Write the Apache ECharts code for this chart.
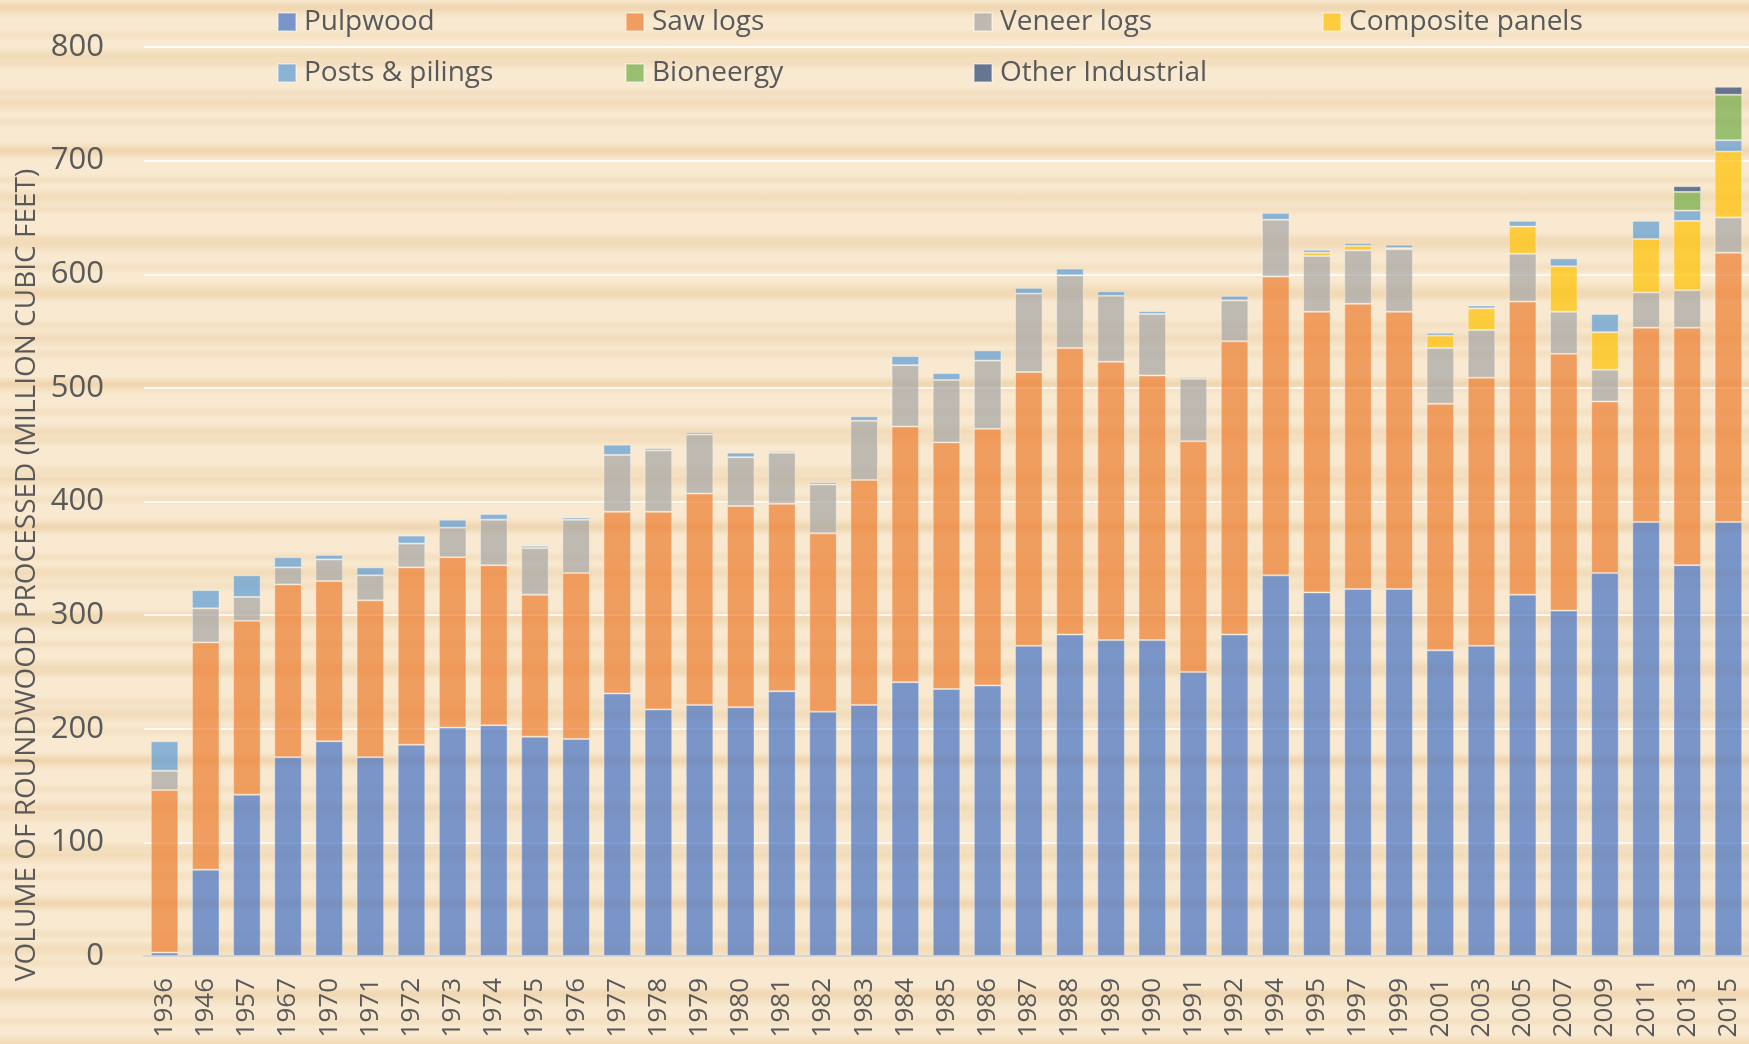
<!DOCTYPE html>
<html>
<head>
<meta charset="utf-8">
<script src="https://cdn.jsdelivr.net/npm/echarts@6/dist/echarts.min.js"></script>
<style>
  html, body { margin: 0; padding: 0; }
  body {
    width: 1749px; height: 1044px; overflow: hidden;
    background:
      repeating-linear-gradient(180deg, rgba(232,194,142,0) 0px, rgba(232,194,142,0.38) 9px, rgba(232,194,142,0) 19px, rgba(232,194,142,0) 47px),
      repeating-linear-gradient(180deg, rgba(228,188,138,0) 0px, rgba(228,188,138,0.22) 6px, rgba(228,188,138,0) 12px, rgba(228,188,138,0) 29px),
      #F8E9D0;
  }
  #chart { width: 1749px; height: 1044px; }
</style>
</head>
<body>
<div id="chart"></div>
<script>
const years = ['1936','1946','1957','1967','1970','1971','1972','1973','1974','1975','1976','1977','1978','1979','1980','1981','1982','1983','1984','1985','1986','1987','1988','1989','1990','1991','1992','1994','1995','1997','1999','2001','2003','2005','2007','2009','2011','2013','2015'];

const pulpwood  = [3,76,142,175,189,175,186,201,203,193,191,231,217,221,219,233,215,221,241,235,238,273,283,278,278,250,283,335,320,323,323,269,273,318,304,337,382,344,382];
const sawLogs   = [143,200,153,152,141,138,156,150,141,125,146,160,174,186,177,165,157,198,225,217,226,241,252,245,233,203,258,263,247,251,244,217,236,258,226,151,171,209,237];
const veneerLogs= [17,30,21,15,19,22,21,26,40,41,47,50,54,52,43,45,43,52,54,55,60,69,64,58,54,55,36,50,49,47,55,49,42,42,37,28,31,33,31];
const composite = [0,0,0,0,0,0,0,0,0,0,0,0,0,0,0,0,0,0,0,0,0,0,0,0,0,0,0,0,3,4,1,11,19,24,40,33,47,61,58];
const posts     = [26,16,19,9,4,7,7,7,5,2,2,9,2,2,4,1.5,2,4,8,6,9,5,6,4,2.5,1.5,4,6,2.5,2.5,3,2.5,2.5,5,7,16,16,9,10];
const bioenergy = [0,0,0,0,0,0,0,0,0,0,0,0,0,0,0,0,0,0,0,0,0,0,0,0,0,0,0,0,0,0,0,0,0,0,0,0,0,16.5,40];
const otherInd  = [0,0,0,0,0,0,0,0,0,0,0,0,0,0,0,0,0,0,0,0,0,0,0,0,0,0,0,0,0,0,0,0,0,0,0,0,0,5,7];

const seriesNames = ['Pulpwood','Saw logs','Veneer logs','Composite panels','Posts & pilings','Bioneergy','Other Industrial'];
const seriesData = [pulpwood, sawLogs, veneerLogs, composite, posts, bioenergy, otherInd];
const colors = ['#4472C4','#ED7D31','#A5A5A5','#FFC000','#5B9BD5','#70AD47','#264478'];
const yTicks = [0,100,200,300,400,500,600,700,800];

const FONT = 'Open Sans';
const TXT = '#595959';

const legendPos = [
  [277, 7], [625, 7], [973, 7], [1322, 7],
  [277, 58], [625, 58], [973, 58]
];

const chart = echarts.init(document.getElementById('chart'), null, {renderer: 'canvas'});

chart.setOption({
  backgroundColor: 'transparent',
  animation: false,
  color: colors,
  grid: { left: 144, right: 0, top: 47, bottom: 88, containLabel: false },
  legend: seriesNames.map((n, i) => ({
    data: [n],
    left: legendPos[i][0],
    top: legendPos[i][1],
    padding: 0,
    icon: 'rect',
    itemWidth: 18,
    itemHeight: 18,
    selectedMode: false,
    textStyle: { fontFamily: FONT, fontSize: 28, color: TXT, lineHeight: 30, padding: [0,0,0,3] }
  })),
  xAxis: {
    type: 'category',
    data: years,
    axisTick: { show: false },
    axisLine: { lineStyle: { color: '#D9D6D0', width: 2 } },
    axisLabel: { rotate: 90, fontFamily: FONT, fontSize: 26, color: TXT, margin: 22, interval: 0 }
  },
  yAxis: {
    type: 'value',
    min: yTicks[0],
    max: yTicks[yTicks.length - 1],
    interval: yTicks[1] - yTicks[0],
    axisLine: { show: false },
    axisTick: { show: false },
    axisLabel: { fontFamily: FONT, fontSize: 31, color: TXT, margin: 40 },
    splitLine: { lineStyle: { color: 'rgba(255,255,255,0.8)', width: 2 } }
  },
  graphic: [{
    type: 'text',
    x: 27, y: 575,
    rotation: Math.PI / 2,
    style: {
      text: 'VOLUME OF ROUNDWOOD PROCESSED (MILLION CUBIC FEET)',
      font: '28px "Open Sans"',
      fill: TXT,
      textAlign: 'center',
      textVerticalAlign: 'middle'
    }
  }],
  series: seriesNames.map((n, i) => ({
    name: n,
    type: 'bar',
    stack: 'total',
    barCategoryGap: '33%',
    data: seriesData[i].map(v => (v === 0 ? '-' : v)),
    itemStyle: { color: colors[i], opacity: 0.7, borderColor: 'rgba(255,255,255,0.5)', borderWidth: 1 },
    emphasis: { disabled: true }
  }))
});
</script>
</body>
</html>
